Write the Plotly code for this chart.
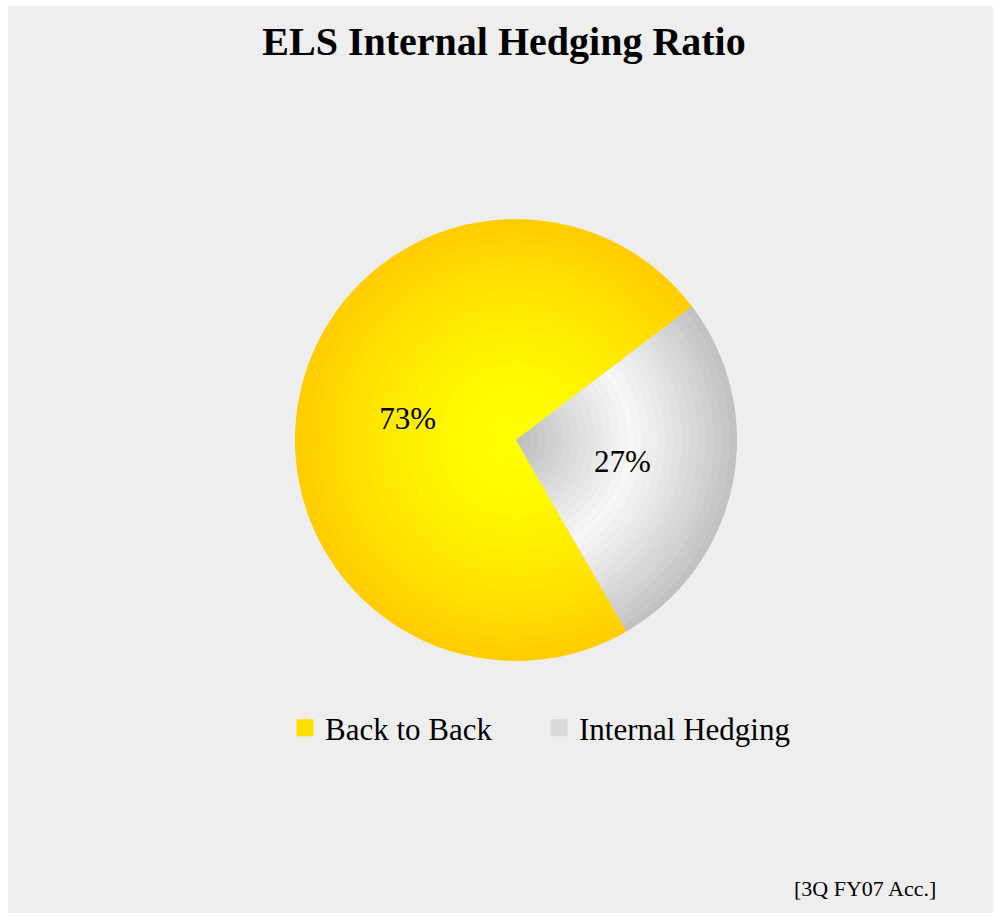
import plotly.graph_objects as go

# Data
labels = ["Back to Back", "Internal Hedging"]
values = [73, 27]
title_text = "ELS Internal Hedging Ratio"
footnote = "[3Q FY07 Acc.]"

W, H = 999, 917
CX, CY, R = 516, 440, 221
SERIF = "Liberation Serif, Times New Roman, serif"


def domain_for(r):
    return dict(x=[(CX - r) / W, (CX + r) / W],
                y=[1 - (CY + r) / H, 1 - (CY - r) / H])


def yellow(f):
    g = int(round(255 - 51 * f ** 1.6))
    return f"rgb(255,{g},0)"


def grey(f):
    v = int(round(247 - 55 * (abs(f - 0.52) / 0.48) ** 1.1))
    return f"rgb({v},{v},{v})"


common = dict(labels=labels, values=values, sort=False,
              direction="clockwise", rotation=150)

fig = go.Figure()

# base pie (carries the legend swatches; thick outline enlarges the swatch)
fig.add_trace(go.Pie(
    **common,
    marker=dict(colors=["#FFDF00", "#D9D9D9"],
                line=dict(width=5, color=["#FFDF00", "#D9D9D9"])),
    textinfo="none", domain=domain_for(R - 3), showlegend=True, hoverinfo="skip",
))

# concentric rings giving a radial shading
N = 28
for k in range(N, 0, -1):
    r_out = R * k / N
    r_in = R * (k - 1) / N
    f = (k - 0.5) / N
    fig.add_trace(go.Pie(
        **common,
        marker=dict(colors=[yellow(f), grey(f)], line=dict(width=0)),
        hole=(r_in / r_out) if k > 1 else 0,
        textinfo="none", domain=domain_for(r_out), showlegend=False, hoverinfo="skip",
    ))

# percentage labels on top
label_font = dict(family=SERIF, size=31, color="black")
clear = dict(colors=["rgba(0,0,0,0)", "rgba(0,0,0,0)"], line=dict(width=0))
fig.add_trace(go.Pie(
    **common, marker=clear,
    texttemplate=["%{percent:.0%}", ""], textposition="inside",
    insidetextorientation="horizontal", textfont=label_font,
    domain=domain_for(R), showlegend=False, hoverinfo="label+percent",
))
fig.add_trace(go.Pie(
    **common, marker=clear,
    texttemplate=["", "%{percent:.0%}"], textposition="inside",
    insidetextorientation="horizontal", textfont=label_font,
    domain=domain_for(190), showlegend=False, hoverinfo="label+percent",
))

fig.update_layout(
    width=W, height=H,
    margin=dict(l=0, r=0, t=0, b=0),
    paper_bgcolor="white",
    plot_bgcolor="white",
    title=dict(text=f"<b>{title_text}</b>", x=504 / W, xanchor="center",
               y=1 - 41 / H, yanchor="middle",
               font=dict(family=SERIF, size=40, color="black")),
    legend=dict(orientation="h", x=285 / W, xanchor="left",
                y=1 - 728 / H, yanchor="middle",
                font=dict(family=SERIF, size=31, color="black"),
                bgcolor="rgba(0,0,0,0)", itemwidth=30, entrywidth=209),
    shapes=[dict(type="rect", xref="paper", yref="paper", layer="below",
                 x0=8 / W, x1=993 / W, y0=1 - 913 / H, y1=1 - 6 / H,
                 fillcolor="#EEEEEE", line=dict(width=0))],
    annotations=[dict(text=footnote, xref="paper", yref="paper",
                      x=938 / W, xanchor="right", y=1 - 888 / H, yanchor="middle",
                      showarrow=False, font=dict(family=SERIF, size=22, color="black"))],
)

fig.write_html("out.html")
